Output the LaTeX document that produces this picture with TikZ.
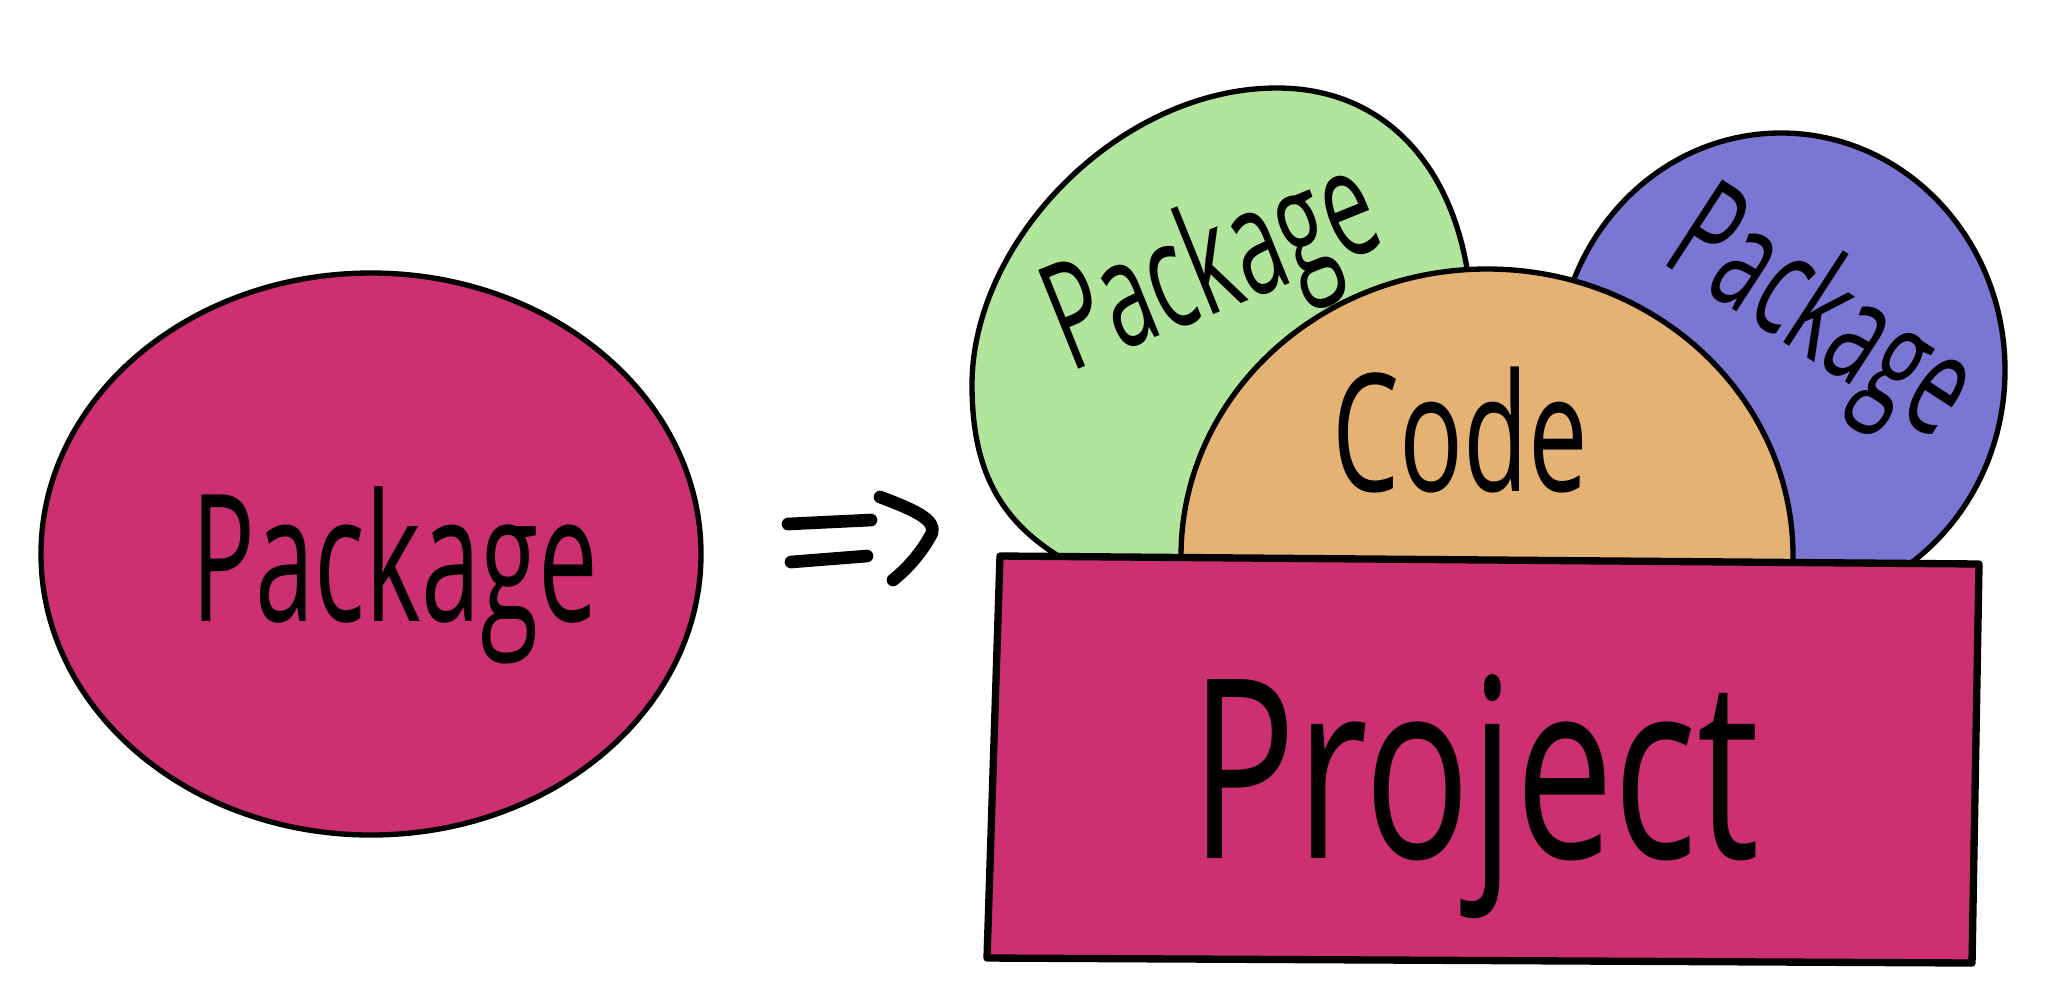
\documentclass[tikz,border=0pt]{standalone}
\usepackage{fontspec}
\setmainfont{Open Sans}
\usepackage{xcolor}
\usepackage{tikz}

\definecolor{pkgpink}{RGB}{205,48,113}
\definecolor{pkggreen}{RGB}{177,229,155}
\definecolor{pkgpurple}{RGB}{123,117,212}
\definecolor{codeorange}{RGB}{228,178,115}

\begin{document}
\begin{tikzpicture}[x=0.75pt,y=0.75pt,yscale=-1,xscale=1,
  blob/.style={draw=black,line width=4pt},
  word/.style={inner sep=0.75pt,xscale=0.6,anchor=base},
  pen/.style={line width=9.5pt,line cap=round,line join=round}]
\useasboundingbox (0,0) rectangle (2055,1001);
%Shape: Ellipse
\draw [blob,fill=pkgpink] (371,554) ellipse (330 and 281);
%Straight Lines
\draw [pen] (788,524) -- (871,520) ;
\draw [pen] (791,562) -- (867,556) ;
\draw [pen] (880,497) .. controls (915,510) and (936,520) .. (932,533) .. controls (922,552) and (908,568) .. (893,580) ;
%Shape: Egg
\draw [blob,fill=pkggreen] (1277,88) .. controls (1120,88) and (972,240) .. (972,385) .. controls (972,470) and (1000,520) .. (1060,557) .. controls (1150,630) and (1472,500) .. (1472,330) .. controls (1472,190) and (1400,88) .. (1277,88) -- cycle ;
%Shape: Ellipse
\draw [blob,fill=pkgpurple] (1781,370) ellipse (224 and 237);
%Shape: Ellipse
\draw [blob,fill=codeorange] (1487,556) ellipse (306 and 287);
%Shape: Rectangle
\draw [fill=pkgpink,line width=5.5pt,line join=round] (1000,556) -- (1979,564) -- (1972,963) -- (987,958) -- cycle ;
% Text Node
\node (pkgleft) [word,font=\fontsize{133}{140}\selectfont] at (395,621) {Package};
% Text Node
\node (pkggreentext) [rotate=22,word,anchor=center,font=\fontsize{112}{120}\selectfont] at (1215,272) {Package};
% Text Node
\node (pkgpurpletext) [rotate=-33,word,anchor=center,font=\fontsize{108}{120}\selectfont] at (1818,320) {Package};
% Text Node
\node (code) [word,xscale=1.08,font=\fontsize{123}{130}\selectfont] at (1460,491) {Code};
% Text Node
\node (project) [word,xscale=1.17,font=\fontsize{188}{200}\selectfont] at (1475,858) {Project};
\end{tikzpicture}
\end{document}
